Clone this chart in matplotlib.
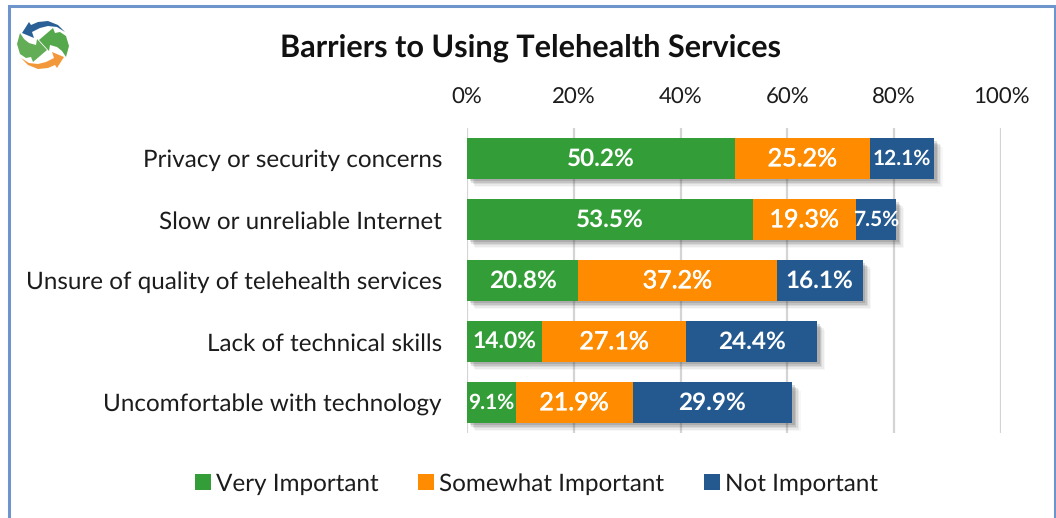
import matplotlib
matplotlib.use("Agg")
import matplotlib.pyplot as plt
import matplotlib.patheffects as pe
from matplotlib.patches import Polygon

plt.rcParams['font.family'] = ['Lato', 'DejaVu Sans']
plt.rcParams['text.hinting'] = 'no_hinting'

categories = ["Privacy or security concerns", "Slow or unreliable Internet",
              "Unsure of quality of telehealth services", "Lack of technical skills",
              "Uncomfortable with technology"]
very_important = [50.2, 53.5, 20.8, 14.0, 9.1]
somewhat_important = [25.2, 19.3, 37.2, 27.1, 21.9]
not_important = [12.1, 7.5, 16.1, 24.4, 29.9]
series_names = ["Very Important", "Somewhat Important", "Not Important"]
x_ticks = [0, 20, 40, 60, 80, 100]

GREEN = "#339e37"
ORANGE = "#ff8c00"
BLUE = "#23598f"
INK = "#1c1c1c"
W, H = 1056, 518


def label_size(v, weight):
    # narrow segments get a smaller label
    if v < 13:
        return 15
    if v < 15:
        return 16.5
    return 18 if weight == "normal" else 17.5


def mirrored(pts):
    # half-turn about the centre of the logo
    return [(86 - px, 90 - py) for px, py in pts]


fig = plt.figure(figsize=(W / 100, H / 100), dpi=100)

# full-figure overlay in pixel units, for the frame and the logo
bg = fig.add_axes([0, 0, 1, 1], zorder=0)
bg.set_xlim(0, W)
bg.set_ylim(H, 0)
bg.axis("off")
bg.plot([8.5, 8.5, 1054.5, 1054.5], [H, 5.5, 5.5, H], color="#6d94cb", lw=2.2,
        solid_joinstyle="miter", solid_capstyle="butt")

logo_blue = [(65, 32), (58, 25), (48, 21), (38, 22), (31, 25), (29, 22), (22, 33), (34, 38),
             (32, 32), (40, 28), (48, 26), (57, 27)]
logo_green = [(20, 33), (17, 44), (20, 54), (26, 58), (31, 57), (33, 62), (47, 50), (37, 39),
              (36, 45), (29, 43), (24, 39)]
bg.add_patch(Polygon(logo_green, closed=True, fc="#62ad55", ec="none"))
bg.add_patch(Polygon(mirrored(logo_green), closed=True, fc="#56a84c", ec="none"))
bg.add_patch(Polygon(logo_blue, closed=True, fc="#2a6096", ec="none"))
bg.add_patch(Polygon(mirrored(logo_blue), closed=True, fc="#f3983a", ec="none"))

bg.text(531, 47.5, "Barriers to Using Telehealth Services", ha="center", va="center",
        fontsize=22.1, fontweight="bold", color="#111111")

ax = fig.add_axes([467 / W, 1 - 433 / H, (1001 - 467) / W, (433 - 128) / H], zorder=1)
ax.patch.set_alpha(0)
y = list(range(len(categories)))

left = [0] * len(categories)
containers = []
for vals, name, col, weight in zip([very_important, somewhat_important, not_important], series_names,
                                   [GREEN, ORANGE, BLUE], ["bold", "normal", "bold"]):
    bars = ax.barh(y, vals, left=left, height=0.66, color=col, label=name, zorder=3)
    containers.append(bars)
    for yi, v, l in zip(y, vals, left):
        t = ax.text(l + v / 2, yi + 0.01, f"{v:.1f}%", ha="center", va="center", color="white",
                    fontsize=label_size(v, weight), fontweight=weight, zorder=5)
        if weight == "normal":
            # thicken the regular face a little
            t.set_path_effects([pe.withStroke(linewidth=0.4, foreground="white")])
    left = [a + b for a, b in zip(left, vals)]

ax.set_xlim(0, 100)
ax.set_ylim(len(categories) - 0.5, -0.5)
ax.set_xticks(x_ticks)
ax.set_xticklabels([f"{t}%" for t in x_ticks], fontsize=16, color=INK)
ax.xaxis.tick_top()
ax.set_yticks(y)
ax.set_yticklabels(categories, fontsize=17.5, color=INK)
ax.tick_params(axis="both", length=0)
ax.tick_params(axis="x", pad=15)
ax.tick_params(axis="y", pad=18)
ax.grid(axis="x", color="#d4d4d4", lw=1.6, zorder=0)
ax.set_axisbelow(True)
for s in ax.spines.values():
    s.set_visible(False)

leg = fig.legend(handles=[c[0] for c in containers], labels=series_names, ncol=3, frameon=False,
                 loc="center", bbox_to_anchor=(536.5 / W, 1 - 484 / H), fontsize=17.5,
                 handlelength=0.66, handleheight=0.66, handletextpad=0.2, columnspacing=1.65,
                 labelcolor=INK)

# soft drop shadow, added after the legend so its keys stay flat
shadow = [pe.SimplePatchShadow(offset=(d, -d), shadow_rgbFace="#444444", alpha=a)
          for d, a in [(6, 0.04), (5, 0.07), (4, 0.10), (3, 0.14), (2, 0.18)]] + [pe.Normal()]
for bars in containers:
    for b in bars:
        b.set_path_effects(shadow)

fig.savefig("out.png", dpi=100)
